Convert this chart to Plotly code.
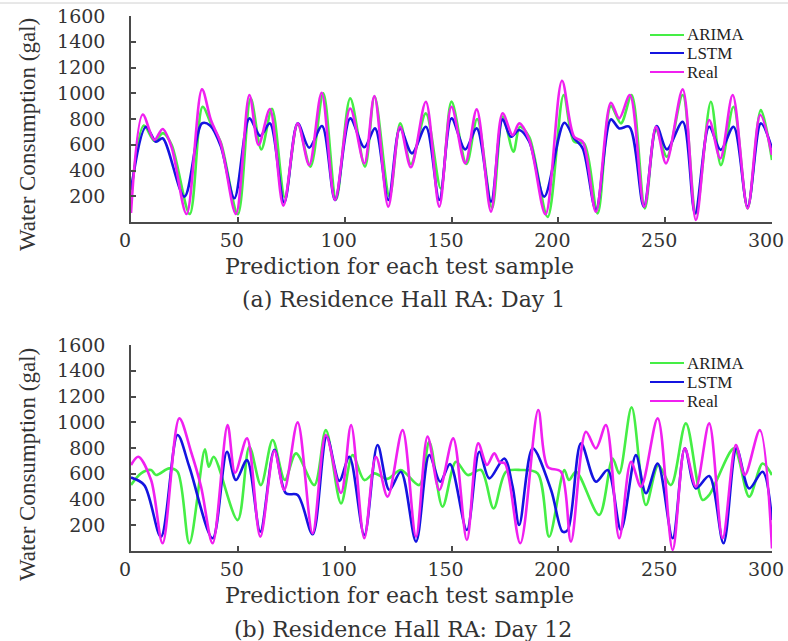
import plotly.graph_objects as go

# ---------------- data ----------------
series_names = ["ARIMA", "LSTM", "Real"]
x_ticks = [0, 50, 100, 150, 200, 250, 300]
y_ticks = [200, 400, 600, 800, 1000, 1200, 1400, 1600]

# (a) Day 1
d1_real_x = [0, 5.5, 10.9, 14.8, 19, 26, 33.2, 37.4, 42, 49.1, 55.4, 59.7, 65, 71.3, 78, 83.4, 89.2, 95.5,
             102.6, 109.2, 113.9, 120.4, 125.9, 131, 138, 144.3, 150, 156.4, 161.8, 168.5, 173.9, 178.6,
             181.7, 186.4, 194, 201.7, 207.4, 211.4, 217.6, 224.6, 228.5, 233.5, 240.2, 245.7, 250.4,
             258.2, 264.4, 270.6, 275.8, 281.6, 288.6, 294.5, 300]
d1_real_y = [70, 835, 637, 722, 580, 62, 1030, 792, 611, 62, 986, 598, 877, 127, 766, 442, 1004, 171,
             882, 455, 978, 119, 740, 425, 934, 119, 895, 455, 875, 80, 844, 675,
             766, 637, 60, 1097, 662, 624, 80, 926, 805, 986, 119, 740, 455,
             1030, 15, 792, 494, 986, 106, 831, 520]

d1_lstm_x = [0, 7, 11.7, 14.8, 25, 33.2, 37, 42, 48.4, 55.4, 60.5, 65, 71.7, 78, 83.4, 89.4, 95.5,
             102.6, 109.2, 114.2, 120.4, 125.9, 131.5, 138, 144.3, 150, 156.4, 161.8, 168.5, 173.9,
             177.8, 181.7, 186.4, 193.4, 202.8, 207.4, 211.4, 217.6, 224.6, 228.5, 233.2, 240, 246,
             250.8, 258.2, 264, 270.6, 276, 282, 288.6, 294.8, 300]
d1_lstm_y = [250, 740, 623, 650, 197, 766, 750, 590, 184, 805, 668, 766, 150, 766, 577, 745, 171,
             805, 580, 727, 171, 727, 533, 740, 171, 805, 564, 727, 158, 797,
             662, 714, 624, 197, 771, 650, 572, 93, 797, 727, 740, 119, 745,
             564, 779, 67, 740, 560, 740, 119, 766, 572]

d1_arima_x = [0, 6, 11, 15, 19, 27.5, 33.5, 37.5, 42, 50, 56, 61, 66, 72, 78, 84, 90, 96,
              102.6, 109.5, 114, 121, 126, 131, 138, 145, 150, 157, 162, 169, 174, 179, 182, 186.4,
              195, 202.5, 207.4, 212, 218.4, 224.6, 229.3, 234.3, 240.5, 245.7, 250.8, 258.2,
              264.4, 271.4, 276.1, 282, 288.6, 294.8, 300]
d1_arima_y = [200, 750, 630, 690, 600, 62, 895, 760, 620, 60, 960, 564, 880, 192, 760, 430, 1000, 175,
              960, 430, 975, 197, 766, 450, 844, 260, 935, 450, 800, 110, 820, 546, 740, 660,
              40, 986, 624, 610, 67, 900, 766, 986, 106, 714, 507, 986,
              67, 934, 442, 895, 106, 870, 481]

# (b) Day 12
d12_real_x = [0, 3.4, 9.4, 14.8, 22.6, 28.1, 32.8, 38.2, 45.2, 48.7, 54.3, 60.5, 67.1, 71.7, 78, 85,
              91.2, 98.3, 103, 109.2, 114.6, 120.1, 127.1, 133.4, 138.8, 144.3, 150.8, 157.2, 162.5,
              166.6, 170, 172.5, 175, 182.2, 190.6, 195, 201.2, 205.9, 212.9, 217.6, 222.3, 228.5,
              234, 238.7, 246.5, 253.5, 259.2, 264.4, 270.6, 276.9, 283.1, 287.3, 294.3, 300]
d12_real_y = [668, 732, 551, 60, 1030, 771, 499, 60, 978, 608, 875, 111, 779, 474, 999, 137,
              901, 450, 978, 99, 732, 422, 939, 111, 888, 474, 875, 85, 836,
              668, 758, 690, 680, 60, 1095, 654, 616, 73, 926, 797, 978, 99,
              693, 499, 1030, 8, 797, 499, 991, 99, 823, 590, 939, 20]

d12_lstm_x = [0, 6.2, 14, 21.8, 27.3, 38.2, 44.9, 49.1, 54.3, 60.5, 67.1, 72.5, 78, 85, 91.6, 97.5,
              102.2, 109.2, 115.4, 120.9, 126.3, 133.4, 139.6, 144.7, 149.3, 157.2, 163, 167.7, 174.7,
              178.6, 181.7, 188, 196.6, 202, 204.4, 210.6, 217.6, 223.1, 229.3, 236.3, 241, 246.5,
              253.5, 259.2, 264.4, 270.6, 277.3, 283.4, 289.3, 295.6, 300]
d12_lstm_y = [570, 512, 111, 901, 654, 99, 771, 551, 706, 150, 786, 448, 435, 130, 888, 545,
              732, 124, 823, 474, 616, 73, 745, 538, 675, 163, 771, 564, 719,
              500, 202, 797, 474, 150, 163, 836, 538, 629, 163, 745, 448, 680,
              99, 797, 486, 582, 60, 797, 486, 616, 240]

d12_arima_x = [0, 4.7, 9.4, 11.7, 17.9, 21.8, 27.3, 34.6, 36.4, 38.7, 49.9, 55.4, 60.8, 66.3, 72,
               77.2, 85.8, 91.2, 98.3, 103.7, 109.2, 113.9, 120, 126.3, 134.9, 139.6, 145.8, 152.1,
               157.6, 163.8, 169.7, 175.5, 182.5, 190.3, 195.7, 202.8, 205, 208.3, 219.1, 225.4,
               228.5, 234.3, 241, 246.8, 252.7, 259.7, 267.5, 270.6, 273.8, 282.3, 289.3, 295.6, 300]
d12_arima_y = [512, 603, 629, 590, 642, 616, 60, 789, 654, 732, 240, 810, 512, 862, 551,
               758, 512, 939, 370, 745, 551, 603, 560, 629, 512, 849, 344, 693,
               590, 629, 331, 616, 629, 603, 111, 629, 551, 616, 280, 719,
               603, 1116, 357, 667, 512, 991, 396, 435, 538, 797, 422, 680, 590]

captions = ["(a) Residence Hall RA: Day 1", "(b) Residence Hall RA: Day 12"]
x_title = "Prediction for each test sample"
y_title = "Water Consumption (gal)"

colors = {"ARIMA": "#45ee45", "LSTM": "#1414e0", "Real": "#f020f0"}

# ---------------- figure ----------------
W, H = 788, 641
ML, MR, MT, MB = 131, 16, 16, 90
PW = W - ML - MR
PH = H - MT - MB


def py2paper(py):
    return (H - MB - py) / PH


def px2paper(px):
    return (px - ML) / PW


fig = go.Figure()

panels = [
    (d1_arima_x, d1_arima_y, d1_lstm_x, d1_lstm_y, d1_real_x, d1_real_y, "x", "y"),
    (d12_arima_x, d12_arima_y, d12_lstm_x, d12_lstm_y, d12_real_x, d12_real_y, "x2", "y2"),
]
for ax_, ay_, lx_, ly_, rx_, ry_, xa, ya in panels:
    for name, xs, ys in [("ARIMA", ax_, ay_), ("LSTM", lx_, ly_), ("Real", rx_, ry_)]:
        fig.add_trace(go.Scatter(
            x=xs, y=ys, mode="lines", name=name, xaxis=xa, yaxis=ya, showlegend=False,
            line=dict(color=colors[name], width=2.6, shape="spline", smoothing=0.9),
        ))

tick_font = dict(family="DejaVu Serif", size=19, color="#333333")
axis_common = dict(showgrid=False, zeroline=False, showline=True, linecolor="#4a4a4a", linewidth=1.5,
                   ticks="inside", ticklen=5, tickcolor="#4a4a4a", tickwidth=1.5, tickfont=tick_font,
                   ticklabeloverflow="allow", automargin=False)
x_extra = dict(ticklabelshift=-6)
y_extra = dict(ticklabelstandoff=20)

top_dom = [py2paper(222), 1.0]
bot_dom = [0.0, py2paper(345)]

fig.update_layout(
    width=W, height=H, autosize=False,
    margin=dict(l=ML, r=MR, t=MT, b=MB, autoexpand=False),
    paper_bgcolor="white", plot_bgcolor="white",
    xaxis=dict(domain=[0, 1], range=[0, 300], tickvals=x_ticks, anchor="y", **axis_common, **x_extra),
    yaxis=dict(domain=top_dom, range=[0, 1600], tickvals=y_ticks, anchor="x", **axis_common, **y_extra),
    xaxis2=dict(domain=[0, 1], range=[0, 300], tickvals=x_ticks, anchor="y2", **axis_common, **x_extra),
    yaxis2=dict(domain=bot_dom, range=[0, 1600], tickvals=y_ticks, anchor="x2", **axis_common, **y_extra),
    showlegend=False,
)

anns = []
shapes = []
for cy_title, cy_y in [(266, 135), (595, 465)]:
    anns.append(dict(text=x_title, xref="paper", yref="paper", x=px2paper(399), y=py2paper(cy_title),
                     xanchor="center", yanchor="middle", showarrow=False,
                     font=dict(family="DejaVu Serif", size=22, color="#333333")))
    anns.append(dict(text=y_title, xref="paper", yref="paper", x=px2paper(27), y=py2paper(cy_y),
                     xanchor="center", yanchor="middle", showarrow=False, textangle=-90,
                     font=dict(family="Liberation Serif", size=23, color="#333333")))
for cap, cy in zip(captions, [299, 629]):
    anns.append(dict(text=cap, xref="paper", yref="paper", x=px2paper(403), y=py2paper(cy),
                     xanchor="center", yanchor="middle", showarrow=False,
                     font=dict(family="DejaVu Serif", size=22, color="#333333")))

# legend entries (one legend per panel)
for rows in [(35, 53, 72), (363, 382, 401)]:
    for name, ry in zip(series_names, rows):
        shapes.append(dict(type="line", xref="paper", yref="paper",
                           x0=px2paper(650), x1=px2paper(684), y0=py2paper(ry), y1=py2paper(ry),
                           line=dict(color=colors[name], width=2)))
        anns.append(dict(text=name, xref="paper", yref="paper", x=px2paper(685), y=py2paper(ry),
                         xanchor="left", yanchor="middle", showarrow=False,
                         font=dict(family="Liberation Serif", size=17, color="#222222")))

# thin light rule at the very top of the picture
shapes.append(dict(type="line", xref="paper", yref="paper", x0=px2paper(0), x1=px2paper(W),
                   y0=py2paper(3), y1=py2paper(3), line=dict(color="#d0d0d0", width=1)))

fig.update_layout(annotations=anns, shapes=shapes)

fig.write_html("out.html", config={"displayModeBar": False, "responsive": False},
               post_script="document.body.style.margin='0px';document.body.style.overflow='hidden';")
